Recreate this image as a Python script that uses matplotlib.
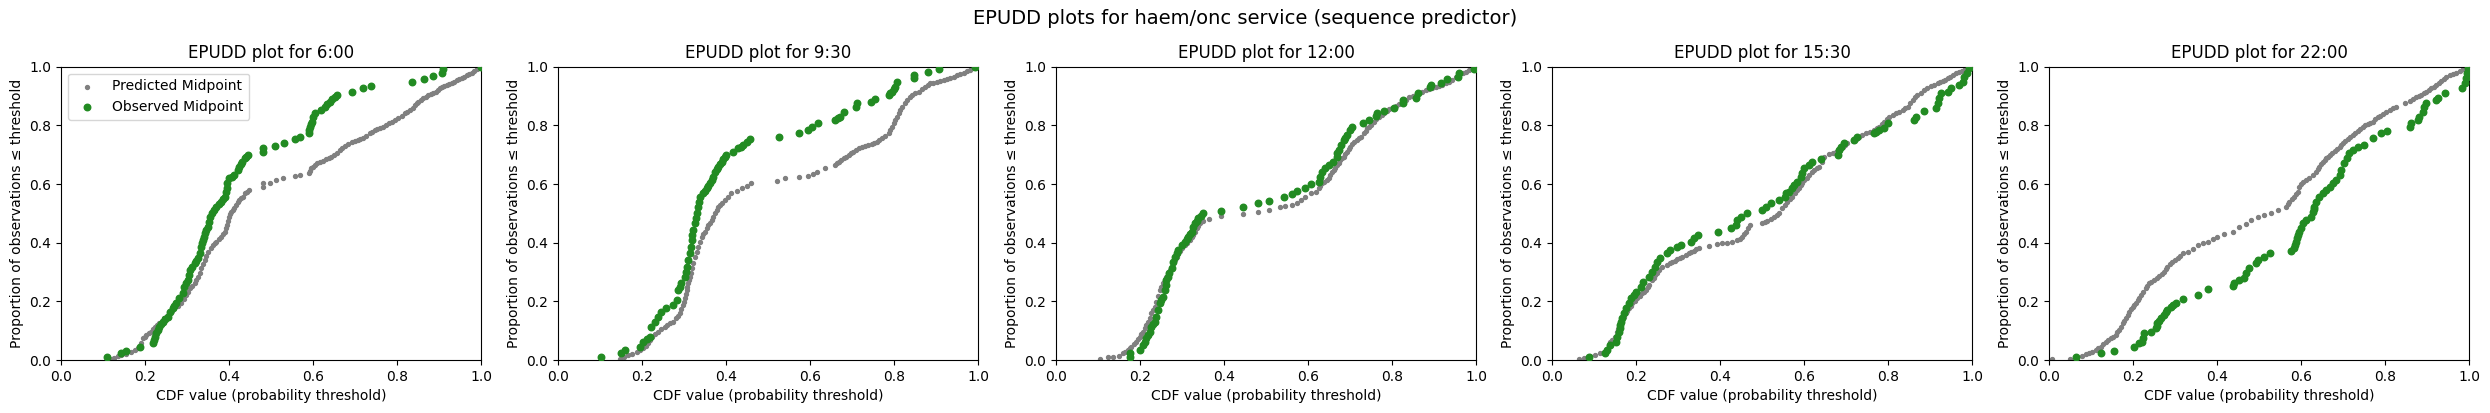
import matplotlib
matplotlib.use("Agg")
import matplotlib.pyplot as plt

suptitle = "EPUDD plots for haem/onc service (sequence predictor)"
times = ["6:00", "9:30", "12:00", "15:30", "22:00"]

pred_0600 = [(0.115,0.002),(0.121,0.005),(0.127,0.008),(0.135,0.012),(0.143,0.017),(0.155,0.022),(0.167,0.028),(0.175,0.034),(0.183,0.040),(0.190,0.057),(0.195,0.074),(0.199,0.080),(0.203,0.085),(0.209,0.091),(0.215,0.097),(0.219,0.105),(0.223,0.114),(0.229,0.120),(0.2345,0.125),(0.240,0.134),(0.246,0.142),(0.252,0.150),(0.258,0.159),(0.264,0.168),(0.270,0.176),(0.278,0.185),(0.286,0.193),(0.292,0.208),(0.298,0.222),(0.302,0.233),(0.306,0.244),(0.312,0.252),(0.318,0.261),(0.322,0.272),(0.326,0.284),(0.330,0.298),(0.334,0.3125),(0.338,0.327),(0.342,0.341),(0.346,0.355),(0.350,0.369),(0.356,0.381),(0.362,0.392),(0.366,0.398),(0.370,0.403),(0.376,0.412),(0.382,0.420),(0.386,0.429),(0.390,0.4375),(0.393,0.449),(0.396,0.460),(0.398,0.475),(0.399,0.489),(0.402,0.498),(0.405,0.506),(0.409,0.512),(0.413,0.517),(0.417,0.528),(0.421,0.537),(0.425,0.545),(0.429,0.551),(0.433,0.557),(0.439,0.568),(0.443,0.574),(0.447,0.580),(0.481,0.591),(0.481,0.602),(0.497,0.6045),(0.513,0.614),(0.529,0.619),(0.556,0.627),(0.568,0.6295),(0.590,0.639),(0.593,0.646),(0.596,0.653),(0.600,0.659),(0.604,0.665),(0.610,0.670),(0.616,0.676),(0.624,0.680),(0.632,0.684),(0.638,0.688),(0.644,0.693),(0.650,0.699),(0.656,0.7045),(0.664,0.716),(0.670,0.723),(0.676,0.7295),(0.684,0.737),(0.692,0.744),(0.700,0.747),(0.7075,0.75),(0.713,0.754),(0.719,0.758),(0.727,0.765),(0.735,0.773),(0.741,0.778),(0.747,0.784),(0.753,0.787),(0.759,0.790),(0.767,0.795),(0.775,0.801),(0.781,0.807),(0.787,0.8125),(0.795,0.818),(0.803,0.824),(0.811,0.832),(0.819,0.841),(0.825,0.846),(0.831,0.852),(0.837,0.860),(0.843,0.869),(0.847,0.875),(0.851,0.881),(0.857,0.886),(0.8625,0.892),(0.868,0.897),(0.874,0.903),(0.880,0.906),(0.886,0.909),(0.892,0.914),(0.898,0.920),(0.902,0.926),(0.906,0.932),(0.912,0.935),(0.918,0.9375),(0.924,0.940),(0.930,0.943),(0.936,0.949),(0.942,0.9545),(0.948,0.957),(0.954,0.960),(0.960,0.966),(0.966,0.972),(0.972,0.976),(0.978,0.980),(0.984,0.985),(0.990,0.991),(0.995,0.995),(1.0,1.0)]

obs_0600 = [(0.110,0.011),(0.143,0.023),(0.155,0.032),(0.189,0.045),(0.220,0.057),(0.221,0.068),(0.224,0.080),(0.2266,0.091),(0.231,0.102),(0.2345,0.114),(0.238,0.122),(0.2424,0.131),(0.248,0.139),(0.2544,0.148),(0.260,0.162),(0.2663,0.176),(0.270,0.185),(0.2742,0.193),(0.282,0.210),(0.290,0.227),(0.294,0.250),(0.298,0.261),(0.302,0.273),(0.305,0.290),(0.308,0.307),(0.313,0.318),(0.318,0.330),(0.322,0.339),(0.326,0.347),(0.330,0.366),(0.334,0.386),(0.336,0.398),(0.338,0.409),(0.340,0.420),(0.343,0.432),(0.346,0.443),(0.350,0.455),(0.352,0.472),(0.354,0.489),(0.359,0.500),(0.364,0.511),(0.370,0.523),(0.376,0.532),(0.382,0.540),(0.386,0.549),(0.390,0.557),(0.393,0.574),(0.395,0.588),(0.396,0.602),(0.401,0.619),(0.407,0.625),(0.413,0.631),(0.421,0.648),(0.425,0.659),(0.428,0.668),(0.431,0.676),(0.437,0.6875),(0.441,0.693),(0.445,0.699),(0.481,0.710),(0.481,0.7216),(0.509,0.7295),(0.531,0.739),(0.556,0.752),(0.568,0.761),(0.590,0.773),(0.591,0.784),(0.592,0.795),(0.595,0.804),(0.598,0.8125),(0.601,0.827),(0.604,0.841),(0.620,0.852),(0.628,0.864),(0.634,0.872),(0.640,0.881),(0.646,0.889),(0.652,0.898),(0.658,0.903),(0.694,0.9125),(0.719,0.926),(0.739,0.935),(0.835,0.947),(0.865,0.957),(0.886,0.968),(0.906,0.980),(0.910,0.991),(1.0,1.0)]

pred_0930 = [(0.147,0.002),(0.157,0.010),(0.167,0.017),(0.177,0.022),(0.187,0.028),(0.195,0.034),(0.203,0.040),(0.209,0.048),(0.215,0.057),(0.219,0.068),(0.223,0.080),(0.231,0.088),(0.2385,0.097),(0.246,0.105),(0.254,0.114),(0.260,0.119),(0.266,0.125),(0.274,0.131),(0.282,0.142),(0.286,0.150),(0.290,0.159),(0.294,0.173),(0.298,0.1875),(0.300,0.199),(0.302,0.210),(0.304,0.224),(0.306,0.239),(0.308,0.250),(0.310,0.261),(0.312,0.272),(0.314,0.284),(0.316,0.298),(0.318,0.3125),(0.322,0.332),(0.326,0.352),(0.330,0.369),(0.334,0.386),(0.338,0.403),(0.342,0.420),(0.346,0.429),(0.350,0.4375),(0.354,0.449),(0.358,0.460),(0.362,0.468),(0.366,0.477),(0.370,0.489),(0.374,0.5),(0.378,0.511),(0.382,0.523),(0.386,0.528),(0.390,0.534),(0.397,0.545),(0.405,0.557),(0.413,0.568),(0.425,0.576),(0.437,0.585),(0.449,0.593),(0.459,0.602),(0.522,0.611),(0.541,0.619),(0.574,0.625),(0.596,0.628),(0.606,0.635),(0.616,0.642),(0.636,0.653),(0.660,0.665),(0.664,0.670),(0.668,0.676),(0.674,0.682),(0.680,0.6875),(0.686,0.693),(0.692,0.699),(0.698,0.705),(0.7035,0.710),(0.710,0.716),(0.7155,0.7216),(0.723,0.726),(0.731,0.7295),(0.739,0.733),(0.747,0.736),(0.753,0.740),(0.759,0.744),(0.765,0.750),(0.771,0.756),(0.779,0.764),(0.787,0.773),(0.791,0.784),(0.795,0.795),(0.799,0.807),(0.803,0.818),(0.807,0.830),(0.811,0.841),(0.815,0.852),(0.819,0.864),(0.825,0.875),(0.831,0.886),(0.837,0.895),(0.843,0.903),(0.851,0.909),(0.8585,0.915),(0.866,0.924),(0.874,0.932),(0.880,0.938),(0.886,0.943),(0.894,0.946),(0.902,0.949),(0.910,0.952),(0.918,0.9545),(0.926,0.957),(0.934,0.960),(0.942,0.966),(0.950,0.972),(0.958,0.976),(0.966,0.980),(0.974,0.985),(0.982,0.989),(0.988,0.994),(0.994,0.998)]

obs_0930 = [(0.1033,0.011),(0.151,0.023),(0.159,0.034),(0.1948,0.045),(0.2027,0.0625),(0.211,0.071),(0.2186,0.0795),(0.2226,0.1136),(0.2305,0.1307),(0.2385,0.1477),(0.2464,0.1648),(0.2583,0.176),(0.2742,0.1875),(0.2822,0.2045),(0.2862,0.2386),(0.290,0.250),(0.294,0.261),(0.302,0.284),(0.304,0.301),(0.306,0.318),(0.310,0.341),(0.314,0.364),(0.316,0.386),(0.318,0.409),(0.320,0.426),(0.322,0.443),(0.326,0.466),(0.328,0.483),(0.330,0.5),(0.334,0.523),(0.336,0.540),(0.338,0.557),(0.346,0.568),(0.350,0.577),(0.354,0.585),(0.358,0.594),(0.362,0.602),(0.366,0.614),(0.370,0.625),(0.374,0.642),(0.378,0.650),(0.382,0.659),(0.386,0.668),(0.390,0.676),(0.394,0.685),(0.397,0.693),(0.401,0.699),(0.417,0.710),(0.429,0.7216),(0.435,0.727),(0.441,0.733),(0.449,0.742),(0.457,0.752),(0.527,0.761),(0.574,0.773),(0.596,0.784),(0.604,0.795),(0.618,0.807),(0.660,0.818),(0.666,0.824),(0.672,0.830),(0.682,0.847),(0.709,0.864),(0.711,0.875),(0.745,0.881),(0.755,0.889),(0.787,0.903),(0.791,0.909),(0.795,0.915),(0.799,0.924),(0.803,0.932),(0.807,0.949),(0.847,0.960),(0.847,0.972),(0.881,0.981),(0.906,0.991),(0.994,0.998)]

pred_1200 = [(0.1036,0.002),(0.1235,0.009),(0.1355,0.011),(0.151,0.015),(0.159,0.023),(0.165,0.028),(0.171,0.034),(0.175,0.040),(0.179,0.045),(0.185,0.054),(0.191,0.0625),(0.195,0.071),(0.199,0.0795),(0.203,0.088),(0.207,0.0966),(0.211,0.108),(0.215,0.119),(0.219,0.131),(0.223,0.142),(0.227,0.159),(0.231,0.170),(0.235,0.182),(0.239,0.199),(0.243,0.219),(0.247,0.239),(0.251,0.25),(0.255,0.261),(0.259,0.273),(0.263,0.284),(0.267,0.295),(0.271,0.307),(0.275,0.318),(0.279,0.330),(0.283,0.341),(0.287,0.352),(0.291,0.364),(0.295,0.372),(0.299,0.381),(0.307,0.392),(0.313,0.400),(0.319,0.409),(0.323,0.418),(0.327,0.426),(0.331,0.438),(0.335,0.449),(0.339,0.458),(0.343,0.466),(0.351,0.475),(0.365,0.480),(0.394,0.491),(0.446,0.498),(0.482,0.506),(0.508,0.511),(0.534,0.520),(0.546,0.525),(0.562,0.528),(0.574,0.536),(0.583,0.545),(0.594,0.557),(0.606,0.568),(0.618,0.574),(0.625,0.585),(0.629,0.594),(0.633,0.602),(0.639,0.608),(0.645,0.614),(0.649,0.622),(0.653,0.631),(0.657,0.640),(0.661,0.648),(0.665,0.656),(0.669,0.665),(0.673,0.673),(0.677,0.682),(0.681,0.688),(0.685,0.693),(0.689,0.702),(0.693,0.710),(0.697,0.718),(0.701,0.727),(0.705,0.736),(0.709,0.744),(0.717,0.75),(0.721,0.756),(0.725,0.761),(0.733,0.773),(0.737,0.781),(0.741,0.790),(0.745,0.795),(0.749,0.801),(0.757,0.8125),(0.763,0.821),(0.769,0.830),(0.775,0.836),(0.781,0.843),(0.787,0.849),(0.793,0.855),(0.801,0.860),(0.809,0.866),(0.817,0.873),(0.825,0.881),(0.833,0.888),(0.841,0.895),(0.849,0.899),(0.857,0.903),(0.865,0.909),(0.8725,0.915),(0.880,0.919),(0.888,0.923),(0.896,0.926),(0.904,0.930),(0.912,0.934),(0.920,0.9375),(0.928,0.943),(0.936,0.949),(0.944,0.956),(0.952,0.964),(0.960,0.970),(0.968,0.977),(0.976,0.983),(0.984,0.989),(0.991,0.994),(0.998,1.0)]

obs_1200 = [(0.177,0.009),(0.177,0.023),(0.199,0.034),(0.207,0.051),(0.211,0.063),(0.215,0.074),(0.219,0.085),(0.223,0.097),(0.227,0.114),(0.231,0.122),(0.235,0.131),(0.239,0.148),(0.243,0.170),(0.247,0.193),(0.251,0.205),(0.255,0.216),(0.259,0.239),(0.261,0.256),(0.263,0.273),(0.266,0.284),(0.269,0.295),(0.275,0.3125),(0.279,0.335),(0.283,0.352),(0.287,0.364),(0.291,0.375),(0.299,0.392),(0.307,0.403),(0.311,0.412),(0.315,0.420),(0.319,0.429),(0.323,0.4375),(0.327,0.4545),(0.331,0.466),(0.335,0.474),(0.339,0.483),(0.345,0.492),(0.351,0.5),(0.394,0.509),(0.446,0.523),(0.482,0.534),(0.508,0.543),(0.544,0.5545),(0.562,0.566),(0.574,0.577),(0.594,0.5875),(0.606,0.599),(0.625,0.608),(0.628,0.625),(0.633,0.642),(0.641,0.653),(0.649,0.665),(0.660,0.676),(0.668,0.693),(0.670,0.705),(0.673,0.716),(0.679,0.733),(0.685,0.75),(0.689,0.758),(0.693,0.767),(0.701,0.784),(0.705,0.795),(0.731,0.807),(0.745,0.818),(0.763,0.832),(0.765,0.841),(0.781,0.85),(0.805,0.858),(0.825,0.875),(0.827,0.886),(0.857,0.892),(0.861,0.909),(0.891,0.932),(0.892,0.9375),(0.916,0.9455),(0.932,0.957),(0.956,0.966),(0.960,0.98),(0.996,0.991)]

pred_1530 = [(0.0636,0.002),(0.0755,0.008),(0.0914,0.0136),(0.103,0.018),(0.115,0.023),(0.123,0.028),(0.131,0.034),(0.135,0.051),(0.139,0.060),(0.143,0.068),(0.151,0.0795),(0.155,0.0966),(0.157,0.105),(0.159,0.114),(0.163,0.125),(0.167,0.136),(0.171,0.148),(0.175,0.159),(0.179,0.168),(0.183,0.176),(0.187,0.185),(0.191,0.193),(0.197,0.202),(0.203,0.210),(0.209,0.219),(0.215,0.227),(0.219,0.233),(0.223,0.239),(0.228,0.248),(0.232,0.256),(0.2385,0.273),(0.242,0.281),(0.246,0.290),(0.250,0.298),(0.254,0.307),(0.262,0.318),(0.274,0.324),(0.280,0.330),(0.286,0.335),(0.292,0.339),(0.298,0.343),(0.304,0.348),(0.310,0.352),(0.318,0.358),(0.326,0.364),(0.332,0.369),(0.338,0.373),(0.344,0.377),(0.350,0.381),(0.374,0.390),(0.3935,0.394),(0.405,0.398),(0.417,0.400),(0.429,0.403),(0.441,0.409),(0.447,0.414),(0.453,0.420),(0.457,0.429),(0.461,0.4375),(0.466,0.449),(0.4705,0.460),(0.501,0.466),(0.507,0.470),(0.513,0.475),(0.521,0.480),(0.529,0.486),(0.535,0.493),(0.541,0.5),(0.548,0.517),(0.554,0.528),(0.560,0.540),(0.566,0.548),(0.572,0.557),(0.578,0.568),(0.584,0.580),(0.588,0.588),(0.592,0.597),(0.596,0.605),(0.600,0.614),(0.606,0.622),(0.612,0.631),(0.618,0.640),(0.624,0.648),(0.630,0.653),(0.636,0.659),(0.642,0.676),(0.648,0.693),(0.660,0.701),(0.668,0.705),(0.676,0.710),(0.684,0.718),(0.692,0.727),(0.698,0.733),(0.7035,0.739),(0.7155,0.747),(0.723,0.753),(0.731,0.759),(0.739,0.766),(0.747,0.773),(0.757,0.778),(0.767,0.784),(0.773,0.790),(0.779,0.795),(0.785,0.804),(0.791,0.8125),(0.797,0.821),(0.803,0.830),(0.811,0.835),(0.819,0.841),(0.827,0.846),(0.835,0.852),(0.841,0.858),(0.847,0.864),(0.853,0.875),(0.8585,0.886),(0.864,0.895),(0.870,0.903),(0.878,0.912),(0.886,0.920),(0.894,0.927),(0.902,0.934),(0.910,0.939),(0.918,0.943),(0.924,0.948),(0.930,0.952),(0.936,0.956),(0.942,0.960),(0.948,0.966),(0.954,0.972),(0.962,0.977),(0.970,0.983),(0.977,0.987),(0.984,0.991),(0.991,0.995),(0.998,1.0)]

obs_1530 = [(0.0874,0.011),(0.127,0.023),(0.131,0.034),(0.139,0.051),(0.153,0.0625),(0.155,0.0795),(0.159,0.0966),(0.161,0.108),(0.163,0.119),(0.165,0.131),(0.167,0.142),(0.171,0.159),(0.175,0.176),(0.183,0.193),(0.187,0.210),(0.195,0.2216),(0.199,0.233),(0.211,0.25),(0.217,0.267),(0.2305,0.284),(0.2385,0.301),(0.246,0.318),(0.250,0.335),(0.258,0.347),(0.274,0.364),(0.282,0.375),(0.298,0.386),(0.308,0.392),(0.330,0.403),(0.338,0.415),(0.348,0.426),(0.395,0.4375),(0.425,0.449),(0.437,0.460),(0.441,0.477),(0.449,0.489),(0.465,0.5),(0.501,0.511),(0.509,0.523),(0.521,0.534),(0.541,0.545),(0.555,0.557),(0.556,0.568),(0.564,0.574),(0.572,0.585),(0.576,0.597),(0.584,0.608),(0.592,0.625),(0.596,0.636),(0.600,0.653),(0.612,0.665),(0.620,0.676),(0.640,0.685),(0.680,0.699),(0.684,0.716),(0.688,0.727),(0.696,0.739),(0.719,0.75),(0.727,0.761),(0.767,0.773),(0.771,0.778),(0.779,0.784),(0.791,0.790),(0.799,0.807),(0.862,0.818),(0.866,0.830),(0.886,0.849),(0.914,0.858),(0.918,0.875),(0.922,0.892),(0.926,0.909),(0.942,0.915),(0.950,0.926),(0.970,0.9375),(0.978,0.949),(0.982,0.966),(0.987,0.98),(0.994,0.994)]

pred_2200 = [(0.008,0.002),(0.050,0.004),(0.0676,0.008),(0.0795,0.015),(0.0875,0.019),(0.0954,0.023),(0.103,0.028),(0.111,0.034),(0.117,0.040),(0.123,0.045),(0.129,0.054),(0.135,0.0625),(0.141,0.068),(0.147,0.074),(0.153,0.080),(0.159,0.085),(0.163,0.094),(0.167,0.102),(0.171,0.114),(0.175,0.125),(0.179,0.134),(0.183,0.142),(0.187,0.154),(0.191,0.165),(0.195,0.174),(0.199,0.182),(0.203,0.189),(0.207,0.195),(0.211,0.203),(0.215,0.210),(0.219,0.222),(0.223,0.233),(0.2305,0.244),(0.234,0.253),(0.2385,0.261),(0.244,0.267),(0.250,0.273),(0.256,0.280),(0.262,0.286),(0.268,0.294),(0.274,0.301),(0.278,0.310),(0.282,0.318),(0.288,0.326),(0.294,0.333),(0.300,0.340),(0.306,0.347),(0.312,0.356),(0.318,0.364),(0.330,0.369),(0.342,0.377),(0.354,0.392),(0.366,0.398),(0.378,0.403),(0.390,0.411),(0.401,0.420),(0.417,0.430),(0.437,0.4375),(0.453,0.4545),(0.469,0.464),(0.481,0.477),(0.497,0.489),(0.513,0.494),(0.529,0.502),(0.5445,0.511),(0.564,0.523),(0.568,0.531),(0.572,0.540),(0.578,0.548),(0.584,0.557),(0.588,0.565),(0.592,0.574),(0.596,0.591),(0.600,0.600),(0.604,0.608),(0.612,0.613),(0.620,0.619),(0.628,0.631),(0.636,0.642),(0.640,0.650),(0.644,0.659),(0.648,0.668),(0.652,0.676),(0.656,0.682),(0.660,0.6875),(0.664,0.693),(0.668,0.699),(0.674,0.707),(0.680,0.714),(0.686,0.720),(0.692,0.725),(0.696,0.732),(0.700,0.739),(0.705,0.746),(0.711,0.752),(0.717,0.760),(0.723,0.767),(0.729,0.775),(0.735,0.782),(0.741,0.789),(0.747,0.795),(0.753,0.800),(0.759,0.805),(0.765,0.809),(0.771,0.8125),(0.777,0.820),(0.783,0.827),(0.789,0.832),(0.795,0.8375),(0.803,0.845),(0.811,0.852),(0.819,0.858),(0.827,0.864),(0.8466,0.877),(0.8585,0.884),(0.866,0.890),(0.874,0.895),(0.880,0.899),(0.886,0.903),(0.892,0.909),(0.898,0.915),(0.904,0.920),(0.910,0.926),(0.916,0.932),(0.922,0.9375),(0.928,0.945),(0.934,0.952),(0.940,0.959),(0.946,0.966),(0.954,0.970),(0.962,0.975),(0.970,0.980),(0.978,0.986),(0.986,0.992),(0.994,0.998)]

obs_2200 = [(0.0636,0.011),(0.123,0.023),(0.155,0.032),(0.203,0.045),(0.2146,0.057),(0.2226,0.0625),(0.224,0.074),(0.2266,0.091),(0.2424,0.097),(0.2544,0.108),(0.256,0.117),(0.258,0.125),(0.262,0.134),(0.266,0.142),(0.274,0.153),(0.278,0.162),(0.282,0.170),(0.290,0.182),(0.296,0.188),(0.302,0.193),(0.318,0.207),(0.354,0.2216),(0.378,0.241),(0.437,0.252),(0.441,0.261),(0.453,0.273),(0.465,0.278),(0.469,0.295),(0.477,0.3125),(0.493,0.332),(0.497,0.341),(0.513,0.352),(0.527,0.364),(0.576,0.373),(0.584,0.381),(0.586,0.392),(0.588,0.403),(0.590,0.415),(0.592,0.426),(0.596,0.4375),(0.600,0.449),(0.604,0.466),(0.612,0.477),(0.624,0.489),(0.628,0.506),(0.630,0.515),(0.632,0.523),(0.636,0.540),(0.644,0.557),(0.652,0.568),(0.660,0.580),(0.668,0.591),(0.676,0.602),(0.684,0.614),(0.692,0.631),(0.696,0.648),(0.703,0.670),(0.709,0.6875),(0.715,0.7045),(0.723,0.716),(0.735,0.727),(0.751,0.733),(0.771,0.756),(0.791,0.773),(0.804,0.782),(0.859,0.795),(0.862,0.807),(0.878,0.818),(0.882,0.830),(0.890,0.847),(0.894,0.864),(0.898,0.875),(0.922,0.886),(0.926,0.892),(0.942,0.909),(0.984,0.926),(0.990,0.943),(0.994,0.960),(0.995,0.977),(0.998,0.994)]

predicted = [pred_0600, pred_0930, pred_1200, pred_1530, pred_2200]
observed = [obs_0600, obs_0930, obs_1200, obs_1530, obs_2200]

W, H = 2490, 413
fig = plt.figure(figsize=(W / 100, H / 100), dpi=100)
lefts = [61, 558, 1056, 1552, 2049]
ax_w, ax_top, ax_bot = 420, 66.7, 360

for i, (t, pr, ob) in enumerate(zip(times, predicted, observed)):
    ax = fig.add_axes([lefts[i] / W, 1 - ax_bot / H, ax_w / W, (ax_bot - ax_top) / H])
    px, py = zip(*pr)
    ox, oy = zip(*ob)
    ax.scatter(px, py, s=8, color="grey", label="Predicted Midpoint", zorder=2)
    ax.scatter(ox, oy, s=22, color="forestgreen", label="Observed Midpoint", zorder=3)
    ax.set_xlim(0, 1)
    ax.set_ylim(0, 1)
    ax.set_title(f"EPUDD plot for {t}", fontsize=12)
    ax.set_xlabel("CDF value (probability threshold)")
    ax.set_ylabel("Proportion of observations \u2264 threshold")
    if i == 0:
        ax.legend(loc="upper left")

fig.suptitle(suptitle, fontsize=14, y=1 - 18 / H, va="center")
fig.savefig("out.png", dpi=100)
